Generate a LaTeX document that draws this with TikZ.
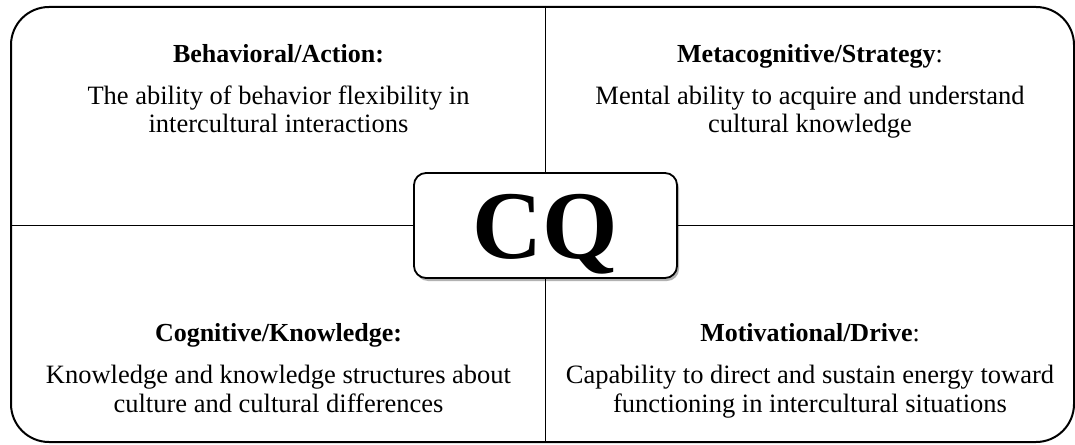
\documentclass[tikz,border=0pt]{standalone}
\usepackage{fontspec}
\setmainfont{Liberation Serif}
\usetikzlibrary{shadows}
\begin{document}
\begin{tikzpicture}[x=1pt, y=-1pt,
  frame/.style={draw, line width=2pt, rounded corners=38pt, inner sep=0pt},
  divider/.style={line width=1.6pt},
  head/.style={anchor=base, inner sep=0pt, font=\fontsize{26}{30}\selectfont},
  body/.style={anchor=base, align=center, inner sep=0pt, font=\fontsize{26.5}{28.5}\selectfont},
  cqbox/.style={draw, line width=1.8pt, fill=white, rounded corners=12pt,
    minimum width=263pt, minimum height=105pt, inner sep=0pt,
    text height=66pt, text depth=0pt,
    font=\fontsize{97}{100}\selectfont\bfseries,
    drop shadow={shadow xshift=2pt, shadow yshift=-3pt, fill=black, opacity=0.3}}
]
\useasboundingbox (0,0) rectangle (1075,444);

% outer frame
\node[frame, minimum width=1063pt, minimum height=435pt] (frame) at (542.5,224.5) {};

% centre coordinate of the quadrant cross
\coordinate (mid) at (545.5,225.5);

% quadrant dividers
\draw[divider] (frame.north -| mid) -- (frame.south -| mid);
\draw[divider] (frame.west |- mid) -- (frame.east |- mid);

% central label
\node[cqbox] (cq) at (mid) {CQ};

% top-left quadrant (body anchored on its last baseline)
\node[head] (bahead) at (278.5,63) {\textbf{Behavioral/Action:}};
\node[body] (babody) at (278.5,132.5) {The ability of behavior flexibility in\\intercultural interactions};

% top-right quadrant
\node[head] (mshead) at (810,63) {\textbf{Metacognitive/Strategy}:};
\node[body] (msbody) at (810,132.5) {Mental ability to acquire and understand\\cultural knowledge};

% bottom-left quadrant
\node[head] (ckhead) at (278.5,341) {\textbf{Cognitive/Knowledge:}};
\node[body] (ckbody) at (278.5,412) {Knowledge and knowledge structures about\\culture and cultural differences};

% bottom-right quadrant
\node[head] (mdhead) at (810,341) {\textbf{Motivational/Drive}:};
\node[body] (mdbody) at (810,412) {Capability to direct and sustain energy toward\\functioning in intercultural situations};
\end{tikzpicture}
\end{document}
